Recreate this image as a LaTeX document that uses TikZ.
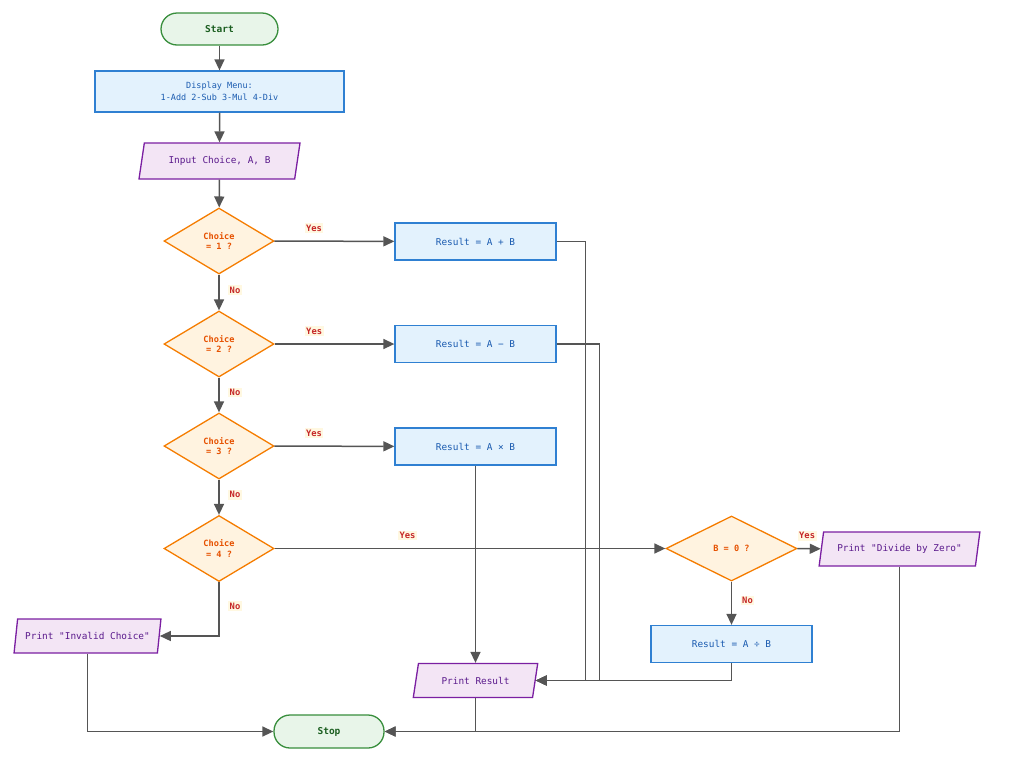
\documentclass[tikz,border=0pt]{standalone}
\usepackage{fontspec}
\setmonofont{DejaVu Sans Mono}
\usetikzlibrary{shapes.geometric,arrows.meta,calc}
\definecolor{termfill}{HTML}{E8F5E9}
\definecolor{termline}{HTML}{388E3C}
\definecolor{termtext}{HTML}{1B5E20}
\definecolor{procfill}{HTML}{E3F2FD}
\definecolor{procline}{HTML}{2F80D2}
\definecolor{proctext}{HTML}{1A5BB0}
\definecolor{iofill}{HTML}{F3E5F5}
\definecolor{ioline}{HTML}{7B1FA2}
\definecolor{iotext}{HTML}{5A1A8C}
\definecolor{decfill}{HTML}{FFF3E0}
\definecolor{decline}{HTML}{F57C00}
\definecolor{dectext}{HTML}{E65100}
\definecolor{edgecol}{HTML}{555555}
\definecolor{lbltext}{HTML}{C62828}
\definecolor{lblfill}{HTML}{FFF8E1}
\tikzset{
  base/.style={line width=1.3pt, align=center, inner sep=2pt,
    font=\ttfamily\fontsize{9.4}{11.5}\selectfont},
  term/.style={base, rectangle, rounded corners=16pt, draw=termline, fill=termfill,
    text=termtext, font=\ttfamily\bfseries\fontsize{9.5}{11}\selectfont,
    minimum width=117pt, minimum height=32pt},
  proc/.style={base, rectangle, draw=procline, fill=procfill, text=proctext,
    minimum width=161pt, minimum height=37pt},
  io/.style={base, trapezium, trapezium left angle=74, trapezium right angle=106,
    trapezium stretches=true, draw=ioline, fill=iofill, text=iotext,
    minimum width=161pt, minimum height=34pt},
  dec/.style={base, diamond, draw=decline, fill=decfill, text=dectext,
    font=\ttfamily\bfseries\fontsize{8.6}{10.5}\selectfont,
    minimum width=110pt, minimum height=66pt, inner sep=0pt},
  arr/.style={draw=edgecol, line width=1.5pt, -{Triangle[length=11pt,width=10pt]}},
  lbl/.style={fill=lblfill, text=lbltext, inner sep=1.5pt,
    font=\ttfamily\bfseries\fontsize{8.8}{10}\selectfont},
}
\begin{document}
\begin{tikzpicture}[x=1pt,y=-1pt]
\useasboundingbox (0,0) rectangle (1024,761);

\node[term] (start) at (219.5,29) {Start};
\node[proc, minimum width=249pt, minimum height=41pt,
  font=\ttfamily\fontsize{8.5}{11.7}\selectfont] (menu) at (219.5,91.5) {Display Menu:\\1-Add 2-Sub 3-Mul 4-Div};
\node[io, minimum height=36pt] (input) at (219.5,161) {Input Choice, A, B};
\node[dec] (d1) at (219,241) {Choice\\= 1 ?};
\node[dec] (d2) at (219,344) {Choice\\= 2 ?};
\node[dec] (d3) at (219,446) {Choice\\= 3 ?};
\node[dec] (d4) at (219,548.5) {Choice\\= 4 ?};
\node[proc] (r1) at (475.5,241.5) {Result = A + B};
\node[proc] (r2) at (475.5,344) {Result = A − B};
\node[proc] (r3) at (475.5,446.5) {Result = A × B};
\node[dec, minimum width=131pt, minimum height=65pt] (b0) at (731.5,548.5) {B = 0 ?};
\node[io] (dz) at (899.5,549) {Print "Divide by Zero"};
\node[proc] (r4) at (731.5,644) {Result = A ÷ B};
\node[io, minimum width=147pt] (inv) at (87.5,636) {Print "Invalid Choice"};
\node[io, minimum width=125pt] (pr) at (475.5,680.5) {Print Result};
\node[term, minimum width=110pt, minimum height=33pt] (stop) at (329,731.5) {Stop};

\draw[arr] (start) -- (menu);
\draw[arr] (menu) -- (input);
\draw[arr] (input) -- (d1);
\draw[arr] (d1) -- node[lbl, pos=0.43, xshift=16pt] {No} (d2);
\draw[arr] (d2) -- node[lbl, pos=0.43, xshift=16pt] {No} (d3);
\draw[arr] (d3) -- node[lbl, pos=0.43, xshift=16pt] {No} (d4);
\draw[arr] (d1) -- node[lbl, pos=0.33, yshift=13pt] {Yes} (r1);
\draw[arr] (d2) -- node[lbl, pos=0.33, yshift=13pt] {Yes} (r2);
\draw[arr] (d3) -- node[lbl, pos=0.33, yshift=13pt] {Yes} (r3);
\draw[arr] (d4) -- node[lbl, pos=0.34, yshift=13pt] {Yes} (b0);
\draw[arr] (d4) |- node[lbl, pos=0.22, xshift=16pt] {No} (inv);
\draw[arr] (b0) -- node[lbl, pos=0.42, yshift=13pt] {Yes} (dz);
\draw[arr] (b0) -- node[lbl, pos=0.44, xshift=16pt] {No} (r4);
\draw[arr] (r1.east) -- ++(29,0) |- (pr.east);
\draw[arr] (r2.east) -- ++(43,0) |- (pr.east);
\draw[arr] (r3) -- (pr);
\draw[arr] (r4) |- (pr.east);
\draw[arr] (pr) |- (stop);
\draw[arr] (dz) |- (stop);
\draw[arr] (inv) |- (stop);
\end{tikzpicture}
\end{document}
